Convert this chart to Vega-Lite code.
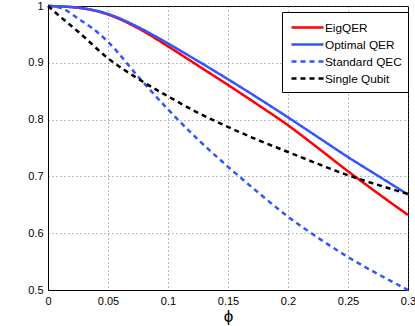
{
  "$schema": "https://vega.github.io/schema/vega-lite/v6.json",
  "width": 360,
  "height": 284,
  "autosize": {"type": "none"},
  "padding": {"left": 48, "top": 6, "right": 7, "bottom": 36},
  "background": "white",
  "config": {
    "font": "Liberation Sans",
    "view": {"stroke": "black", "strokeWidth": 1},
    "axis": {
      "domainColor": "black",
      "labelColor": "black",
      "labelFontSize": 11,
      "labelFont": "Liberation Sans",
      "gridColor": "#555555",
      "gridDash": [1, 3],
      "gridOpacity": 0.8,
      "tickSize": 0,
      "labelPadding": 5
    }
  },
  "data": {
    "values": [
      {"phi": 0, "F": 1, "s": "EigQER"},
      {"phi": 0.025, "F": 0.997, "s": "EigQER"},
      {"phi": 0.05, "F": 0.985, "s": "EigQER"},
      {"phi": 0.075, "F": 0.961, "s": "EigQER"},
      {"phi": 0.1, "F": 0.929, "s": "EigQER"},
      {"phi": 0.125, "F": 0.895, "s": "EigQER"},
      {"phi": 0.15, "F": 0.861, "s": "EigQER"},
      {"phi": 0.175, "F": 0.826, "s": "EigQER"},
      {"phi": 0.2, "F": 0.79, "s": "EigQER"},
      {"phi": 0.225, "F": 0.75, "s": "EigQER"},
      {"phi": 0.25, "F": 0.709, "s": "EigQER"},
      {"phi": 0.275, "F": 0.67, "s": "EigQER"},
      {"phi": 0.3, "F": 0.632, "s": "EigQER"},
      {"phi": 0, "F": 1, "s": "Optimal QER"},
      {"phi": 0.025, "F": 0.997, "s": "Optimal QER"},
      {"phi": 0.05, "F": 0.986, "s": "Optimal QER"},
      {"phi": 0.075, "F": 0.963, "s": "Optimal QER"},
      {"phi": 0.1, "F": 0.934, "s": "Optimal QER"},
      {"phi": 0.125, "F": 0.903, "s": "Optimal QER"},
      {"phi": 0.15, "F": 0.871, "s": "Optimal QER"},
      {"phi": 0.175, "F": 0.838, "s": "Optimal QER"},
      {"phi": 0.2, "F": 0.804, "s": "Optimal QER"},
      {"phi": 0.225, "F": 0.769, "s": "Optimal QER"},
      {"phi": 0.25, "F": 0.734, "s": "Optimal QER"},
      {"phi": 0.275, "F": 0.701, "s": "Optimal QER"},
      {"phi": 0.3, "F": 0.668, "s": "Optimal QER"},
      {"phi": 0, "F": 1, "s": "Standard QEC"},
      {"phi": 0.0125, "F": 0.995, "s": "Standard QEC"},
      {"phi": 0.025, "F": 0.978, "s": "Standard QEC"},
      {"phi": 0.0375, "F": 0.96, "s": "Standard QEC"},
      {"phi": 0.05, "F": 0.937, "s": "Standard QEC"},
      {"phi": 0.075, "F": 0.876, "s": "Standard QEC"},
      {"phi": 0.1, "F": 0.818, "s": "Standard QEC"},
      {"phi": 0.125, "F": 0.765, "s": "Standard QEC"},
      {"phi": 0.15, "F": 0.717, "s": "Standard QEC"},
      {"phi": 0.175, "F": 0.672, "s": "Standard QEC"},
      {"phi": 0.2, "F": 0.629, "s": "Standard QEC"},
      {"phi": 0.225, "F": 0.592, "s": "Standard QEC"},
      {"phi": 0.25, "F": 0.558, "s": "Standard QEC"},
      {"phi": 0.275, "F": 0.528, "s": "Standard QEC"},
      {"phi": 0.3, "F": 0.5, "s": "Standard QEC"},
      {"phi": 0, "F": 1, "s": "Single Qubit"},
      {"phi": 0.0125, "F": 0.977, "s": "Single Qubit"},
      {"phi": 0.025, "F": 0.955, "s": "Single Qubit"},
      {"phi": 0.05, "F": 0.908, "s": "Single Qubit"},
      {"phi": 0.075, "F": 0.872, "s": "Single Qubit"},
      {"phi": 0.1, "F": 0.841, "s": "Single Qubit"},
      {"phi": 0.125, "F": 0.812, "s": "Single Qubit"},
      {"phi": 0.15, "F": 0.787, "s": "Single Qubit"},
      {"phi": 0.175, "F": 0.764, "s": "Single Qubit"},
      {"phi": 0.2, "F": 0.743, "s": "Single Qubit"},
      {"phi": 0.225, "F": 0.722, "s": "Single Qubit"},
      {"phi": 0.25, "F": 0.702, "s": "Single Qubit"},
      {"phi": 0.275, "F": 0.685, "s": "Single Qubit"},
      {"phi": 0.3, "F": 0.669, "s": "Single Qubit"}
    ]
  },
  "mark": {"type": "line", "strokeWidth": 2.5, "interpolate": "monotone"},
  "encoding": {
    "x": {
      "field": "phi", "type": "quantitative",
      "scale": {"domain": [0, 0.3], "nice": false, "zero": false},
      "axis": {"values": [0, 0.05, 0.1, 0.15, 0.2, 0.25, 0.3], "format": "~g", "title": "ϕ", "titleFontSize": 17, "titleFontWeight": "normal", "titlePadding": 2, "titleColor": "black", "labelFlush": false}
    },
    "y": {
      "field": "F", "type": "quantitative",
      "scale": {"domain": [0.5, 1], "nice": false, "zero": false},
      "axis": {"values": [0.5, 0.6, 0.7, 0.8, 0.9, 1], "format": "~g", "title": null, "labelFlush": false}
    },
    "color": {
      "field": "s", "type": "nominal",
      "scale": {"domain": ["EigQER", "Optimal QER", "Standard QEC", "Single Qubit"], "range": ["#ff0000", "#3355ff", "#3355ff", "#000000"]},
      "legend": {
        "title": null,
        "orient": "none",
        "legendX": 234,
        "legendY": 6,
        "symbolType": "M-0.75,0H3.25",
        "symbolSize": 256,
        "symbolStrokeWidth": 2.5,
        "labelFontSize": 11.8,
        "labelColor": "black",
        "labelOffset": 18,
        "rowPadding": -2,
        "padding": 6,
        "strokeColor": "black",
        "fillColor": "white",
        "cornerRadius": 0
      }
    },
    "strokeDash": {
      "field": "s", "type": "nominal",
      "scale": {"domain": ["EigQER", "Optimal QER", "Standard QEC", "Single Qubit"], "range": [[1, 0], [1, 0], [5, 4], [5, 4]]},
      "legend": {
        "title": null,
        "orient": "none",
        "legendX": 234,
        "legendY": 6,
        "symbolType": "M-0.75,0H3.25",
        "symbolSize": 256,
        "symbolStrokeWidth": 2.5,
        "labelFontSize": 11.8,
        "labelColor": "black",
        "labelOffset": 18,
        "rowPadding": -2,
        "padding": 6,
        "strokeColor": "black",
        "fillColor": "white",
        "cornerRadius": 0
      }
    }
  }
}
